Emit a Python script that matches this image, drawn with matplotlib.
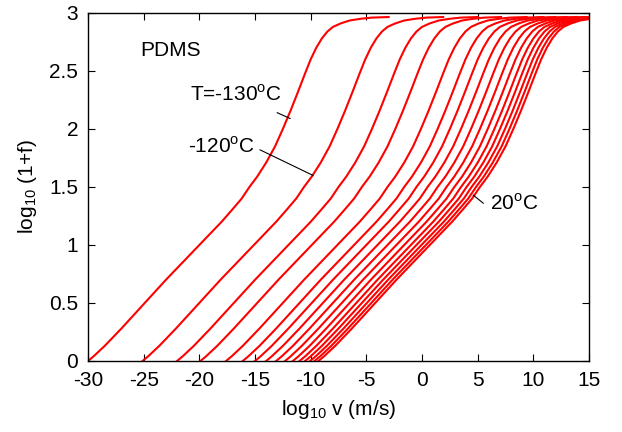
import matplotlib
matplotlib.use("Agg")
import matplotlib.pyplot as plt
import numpy as np

plt.rcParams['font.family'] = ['Liberation Sans', 'DejaVu Sans']
plt.rcParams['mathtext.fontset'] = 'custom'
plt.rcParams['mathtext.rm'] = 'Liberation Sans'

# master curve read from the T=-130 C curve: offset from onset (log10 v) and log10(1+f)
master_dx = [0.0, 0.5, 1.0, 1.5, 2.0, 3.0, 4.0, 5.0, 6.0, 7.0, 8.0, 9.0, 10.0, 11.0,
             12.0, 13.0, 13.8, 14.5, 15.2, 16.0, 16.8, 17.5, 18.2, 18.9, 19.5, 20.0,
             20.5, 21.0, 21.5, 22.0, 22.7, 23.5, 24.5, 25.5, 27.0]
master_y = [0.00, 0.04, 0.085, 0.13, 0.18, 0.28, 0.385, 0.49, 0.595, 0.70, 0.80, 0.90,
            1.00, 1.10, 1.20, 1.31, 1.40, 1.50, 1.59, 1.71, 1.85, 2.00, 2.16, 2.33,
            2.48, 2.60, 2.70, 2.78, 2.84, 2.88, 2.91, 2.935, 2.95, 2.96, 2.965]

# temperatures (C) and onset positions log10 v where log10(1+f)=0
temps = [-130, -120, -110, -100, -90, -80, -70, -60, -50, -40, -30, -20, -10, 0, 10, 20]
onsets = [-30.0, -25.1, -22.0, -19.9, -17.6, -16.1, -15.0, -14.0, -13.1, -12.3,
          -11.6, -11.0, -10.5, -10.05, -9.65, -9.3]

xticks = [-30, -25, -20, -15, -10, -5, 0, 5, 10, 15]
yticks = [0, 0.5, 1, 1.5, 2, 2.5, 3]

fig = plt.figure(figsize=(6.22, 4.32), dpi=100)
ax = fig.add_axes([0.1415, 0.1644, 0.8055, 0.8056])

mdx = np.array(master_dx)
for T, x0 in zip(temps, onsets):
    ax.plot(mdx + x0, master_y, color='#ff0000', lw=1.5, solid_joinstyle='round')

ax.set_xlim(-30, 15)
ax.set_ylim(0, 3)
ax.set_xticks(xticks)
ax.set_yticks(yticks)
ax.set_xticklabels([str(t) for t in xticks])
ax.set_yticklabels(['0', '0.5', '1', '1.5', '2', '2.5', '3'])
ax.tick_params(direction='in', length=5, width=0.8, top=True, right=True,
               labelsize=15, pad=7)
for s in ax.spines.values():
    s.set_linewidth(1.0)

ax.set_xlabel(r'log$_{10}$ v (m/s)', fontsize=15, labelpad=6)
ax.set_ylabel(r'log$_{10}$ (1+f)', fontsize=15, labelpad=7)

ax.text(-25.3, 2.68, 'PDMS', fontsize=15, ha='left', va='center')
ax.text(-20.8, 2.30, r'T=-130$^{\rm o}$C', fontsize=15, ha='left', va='center')
ax.plot([-13.0, -11.85], [2.14, 2.09], color='k', lw=0.8)
ax.text(-21.0, 1.85, r'-120$^{\rm o}$C', fontsize=15, ha='left', va='center')
ax.plot([-14.55, -9.8], [1.82, 1.60], color='k', lw=0.8)
ax.text(6.1, 1.36, r'20$^{\rm o}$C', fontsize=15, ha='left', va='center')
ax.plot([4.6, 5.5], [1.43, 1.36], color='k', lw=0.8)

fig.savefig('out.png', dpi=100)
